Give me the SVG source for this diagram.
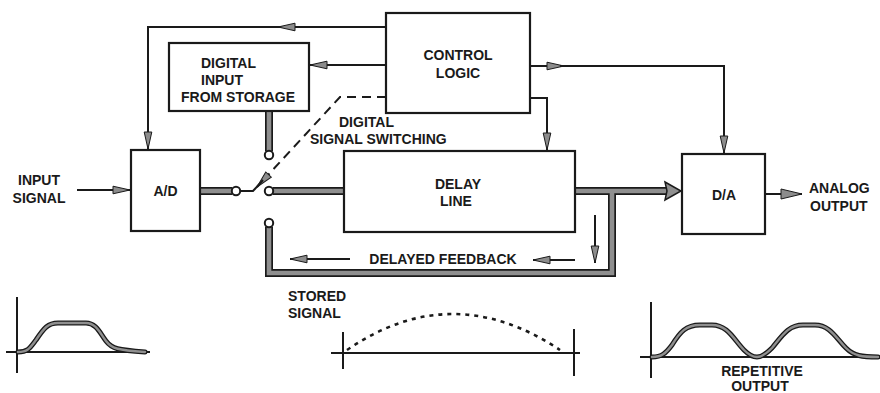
<svg xmlns="http://www.w3.org/2000/svg" width="880" height="393" viewBox="0 0 880 393">
<defs>
<style>
.box{fill:#fff;stroke:#1a1a1a;stroke-width:2.2}
.t{font-family:"Liberation Sans",Arial,sans-serif;font-weight:bold;font-size:14px;fill:#1a1a1a}
.ln{fill:none;stroke:#1a1a1a;stroke-width:2}
.busO{fill:none;stroke:#1a1a1a;stroke-width:8;stroke-linejoin:miter}
.busI{fill:none;stroke:#8f8f8f;stroke-width:4.6;stroke-linejoin:miter}
.wvO{fill:none;stroke:#1a1a1a;stroke-width:5;stroke-linecap:round}
.wvI{fill:none;stroke:#8f8f8f;stroke-width:2.4;stroke-linecap:round}
.ax{fill:none;stroke:#1a1a1a;stroke-width:2}
.circ{fill:#fff;stroke:#1a1a1a;stroke-width:2}
</style>
<marker id="ah" viewBox="-19 -5 20 10" refX="0" refY="0" markerWidth="20" markerHeight="10" markerUnits="userSpaceOnUse" orient="auto">
<path d="M0,0 L-17,-3.8 L-17,3.8 Z" fill="#8c8c8c" stroke="#1a1a1a" stroke-width="1"/>
</marker>
<marker id="ahL" viewBox="-23 -6 24 12" refX="0" refY="0" markerWidth="24" markerHeight="12" markerUnits="userSpaceOnUse" orient="auto">
<path d="M0,0 L-21,-5 L-21,5 Z" fill="#8c8c8c" stroke="#1a1a1a" stroke-width="1"/>
</marker>
</defs>
<rect width="880" height="393" fill="#fff"/>

<g id="connectors">
<path class="ln" d="M386,27 H278" marker-end="url(#ah)"/>
<path class="ln" d="M280,27 H148 V149" marker-end="url(#ah)"/>
<path class="ln" d="M386,65 H310" marker-end="url(#ah)"/>
<path class="ln" d="M530,66 H564" marker-end="url(#ah)"/>
<path class="ln" d="M560,66 H724 V153" marker-end="url(#ah)"/>
<path class="ln" d="M530,98 H547 V150" marker-end="url(#ah)"/>
<path fill="none" stroke="#1a1a1a" stroke-width="2" stroke-dasharray="9 6" d="M386,97 H340 L257,187" marker-end="url(#ah)"/>
<path class="ln" d="M77,190 H130" marker-end="url(#ah)"/>
<path class="ln" d="M765,194 H802" marker-end="url(#ahL)"/>
<path class="ln" d="M350,259 H290" marker-end="url(#ah)"/>
<path class="ln" d="M575,260 H533" marker-end="url(#ah)"/>
<path class="ln" d="M595,215 V263" marker-end="url(#ah)"/>

<g id="bus-outlines">
<path class="busO" d="M200,191 H232"/>
<path class="busO" d="M273,191 H344"/>
<path class="busO" d="M269,111 V151"/>
<path class="busO" d="M575,191 H667"/>
<path class="busO" d="M269,227 V273 H612 V191"/>
</g>
<g id="bus-fills">
<path class="busI" d="M201,191 H232"/>
<path class="busI" d="M273,191 H343"/>
<path class="busI" d="M269,112 V151"/>
<path class="busI" d="M576,191 H667"/>
<path class="busI" d="M269,227 V273 H612 V191"/>
</g>
<polygon points="665,182 681,191 665,200 667,191" fill="#8f8f8f" stroke="#1a1a1a" stroke-width="1.5" stroke-linejoin="miter"/>

<path class="ln" d="M240,191 H253 L263,180"/>
<circle class="circ" cx="236" cy="191" r="4.2"/>
<circle class="circ" cx="269" cy="191" r="4.2"/>
<circle class="circ" cx="269" cy="155" r="4.2"/>
<circle class="circ" cx="269" cy="223" r="4.2"/>
</g>

<g id="control-logic">
<rect class="box" x="386" y="13" width="144" height="100"/>
<text class="t" x="458" y="60" text-anchor="middle">CONTROL</text>
<text class="t" x="458" y="78" text-anchor="middle">LOGIC</text>
</g>

<g id="digital-input">
<rect class="box" x="169" y="43" width="140" height="68"/>
<text class="t" x="201" y="68">DIGITAL</text>
<text class="t" x="201" y="85">INPUT</text>
<text class="t" x="181" y="102">FROM STORAGE</text>
</g>

<g id="ad">
<rect class="box" x="131" y="150" width="69" height="81"/>
<text class="t" x="165.5" y="196" text-anchor="middle">A/D</text>
</g>

<g id="delay-line">
<rect class="box" x="344" y="151" width="231" height="81"/>
<text class="t" x="458" y="189" text-anchor="middle">DELAY</text>
<text class="t" x="456" y="206" text-anchor="middle">LINE</text>
</g>

<g id="da">
<rect class="box" x="682" y="154" width="83" height="80"/>
<text class="t" x="724" y="200" text-anchor="middle">D/A</text>
</g>

<g id="labels">
<text class="t" x="39" y="185" text-anchor="middle">INPUT</text>
<text class="t" x="39" y="203" text-anchor="middle">SIGNAL</text>
<text class="t" x="339" y="127">DIGITAL</text>
<text class="t" x="310" y="144">SIGNAL SWITCHING</text>
<text class="t" x="809" y="193">ANALOG</text>
<text class="t" x="810" y="211">OUTPUT</text>
<text class="t" x="443" y="264" text-anchor="middle">DELAYED FEEDBACK</text>
<text class="t" x="288" y="301">STORED</text>
<text class="t" x="288" y="318">SIGNAL</text>
<text class="t" x="762" y="376" text-anchor="middle">REPETITIVE</text>
<text class="t" x="760" y="391" text-anchor="middle">OUTPUT</text>
</g>

<g id="input-waveform">
<path class="ax" d="M17,297 V373 M6,352 H150"/>
<path class="wvO" d="M18,352 C28,352 30,348 36,340 C44,328 48,323 58,323 L86,323 C96,323 100,333 106,341 C112,349 118,350 145,352"/>
<path class="wvI" d="M18,352 C28,352 30,348 36,340 C44,328 48,323 58,323 L86,323 C96,323 100,333 106,341 C112,349 118,350 145,352"/>
</g>

<g id="stored-waveform">
<path class="ax" d="M343,332 V369 M331,353 H580 M574,329 V376"/>
<path fill="none" stroke="#1a1a1a" stroke-width="2.6" stroke-dasharray="4 5" d="M347,350 Q452,278 560,350"/>
</g>

<g id="output-waveform">
<path class="ax" d="M651,302 V378 M640,357 H880"/>
<path class="wvO" d="M652,357 C662,357 666,353 672,345 C680,332 686,325 700,325 L712,325 C728,325 734,340 744,350 C750,356 754,357 757,357 C762,357 766,354 772,348 C782,336 788,325 803,325 L815,325 C830,325 836,338 846,348 C854,356 862,357 878,357"/>
<path class="wvI" d="M652,357 C662,357 666,353 672,345 C680,332 686,325 700,325 L712,325 C728,325 734,340 744,350 C750,356 754,357 757,357 C762,357 766,354 772,348 C782,336 788,325 803,325 L815,325 C830,325 836,338 846,348 C854,356 862,357 878,357"/>
</g>
</svg>
